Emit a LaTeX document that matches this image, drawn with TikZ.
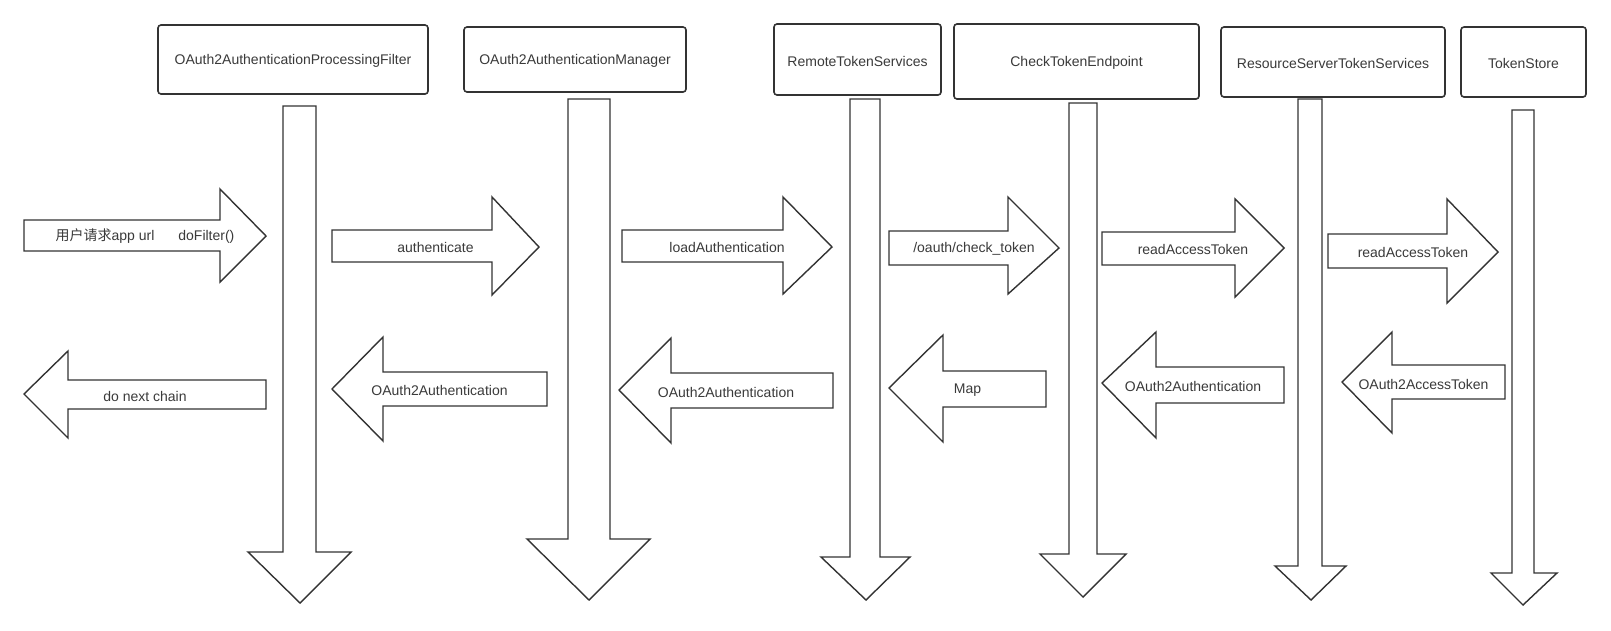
\documentclass[tikz,border=0pt]{standalone}
\usepackage{fontspec}
\setmainfont{Liberation Sans}
\newfontfamily\cjk{Noto Sans CJK SC}
\definecolor{ink}{HTML}{333333}
\definecolor{txt}{HTML}{3A3A3A}
\tikzset{
  box/.style={draw=ink, line width=1.6pt, rounded corners=3pt, fill=white, inner sep=0pt},
  blk/.style={draw=ink, line width=1.4pt, fill=white, line join=miter},
  lbl/.style={text=txt, font=\fontsize{14}{16}\selectfont, inner sep=0pt, anchor=center},
}
\begin{document}
\begin{tikzpicture}[x=1pt,y=-1pt]
\useasboundingbox (0,0) rectangle (1611,630);
\fill[white] (0,0) rectangle (1611,630);

% header boxes
\draw[box] (158,25) rectangle (428,94);
\node[lbl] (b1) at (293,61) {OAuth2AuthenticationProcessingFilter};
\draw[box] (464,27) rectangle (686,92);
\node[lbl] (b2) at (575,61) {OAuth2AuthenticationManager};
\draw[box] (774,24) rectangle (941,95);
\node[lbl] (b3) at (857.5,61) {RemoteTokenServices};
\draw[box] (954,24) rectangle (1199,99);
\node[lbl] (b4) at (1076.5,63) {CheckTokenEndpoint};
\draw[box] (1221,27) rectangle (1445,97);
\node[lbl] (b5) at (1333,63) {ResourceServerTokenServices};
\draw[box] (1461,27) rectangle (1586,97);
\node[lbl] (b6) at (1523.5,63) {TokenStore};

% lifelines (down block arrows)
\draw[blk] (283,106) -- (316,106) -- (316,552) -- (351,552) -- (300,603) -- (248,552) -- (283,552) -- cycle;
\draw[blk] (568,99) -- (610,99) -- (610,539) -- (650,539) -- (589,600) -- (527,539) -- (568,539) -- cycle;
\draw[blk] (850,99) -- (880,99) -- (880,557) -- (910,557) -- (866,600) -- (821,557) -- (850,557) -- cycle;
\draw[blk] (1069,103) -- (1097,103) -- (1097,554) -- (1126,554) -- (1083,597) -- (1040,554) -- (1069,554) -- cycle;
\draw[blk] (1298,99) -- (1322,99) -- (1322,566) -- (1346,566) -- (1311,600) -- (1275,566) -- (1298,566) -- cycle;
\draw[blk] (1512,110) -- (1534,110) -- (1534,573) -- (1557,573) -- (1523,605) -- (1491,573) -- (1512,573) -- cycle;

% right block arrows (requests)
\draw[blk] (24,220) -- (220,220) -- (220,189) -- (266,236) -- (220,282) -- (220,251) -- (24,251) -- cycle;
\node[lbl] (r1) at (145,236) {{\cjk 用户请求}app url\hspace{24pt}doFilter()};
\draw[blk] (332,230) -- (492,230) -- (492,197) -- (539,247) -- (492,295) -- (492,262) -- (332,262) -- cycle;
\node[lbl] (r2) at (435.5,247) {authenticate};
\draw[blk] (622,230) -- (783,230) -- (783,197) -- (832,247) -- (783,294) -- (783,262) -- (622,262) -- cycle;
\node[lbl] (r3) at (727,247) {loadAuthentication};
\draw[blk] (889,231) -- (1008,231) -- (1008,197) -- (1059,248) -- (1008,294) -- (1008,265) -- (889,265) -- cycle;
\node[lbl] (r4) at (974,249) {/oauth/check\_token};
\draw[blk] (1102,232) -- (1235,232) -- (1235,199) -- (1284,248) -- (1235,297) -- (1235,265) -- (1102,265) -- cycle;
\node[lbl] (r5) at (1193,249) {readAccessToken};
\draw[blk] (1328,234) -- (1447,234) -- (1447,199) -- (1498,252) -- (1447,303) -- (1447,268) -- (1328,268) -- cycle;
\node[lbl] (r6) at (1413,252) {readAccessToken};

% left block arrows (returns)
\draw[blk] (266,380) -- (68,380) -- (68,351) -- (24,394) -- (68,438) -- (68,409) -- (266,409) -- cycle;
\node[lbl] (l1) at (145,396) {do next chain};
\draw[blk] (547,372) -- (383,372) -- (383,337) -- (332,389) -- (383,441) -- (383,406) -- (547,406) -- cycle;
\node[lbl] (l2) at (439.5,390) {OAuth2Authentication};
\draw[blk] (833,373) -- (671,373) -- (671,338) -- (619,390) -- (671,443) -- (671,408) -- (833,408) -- cycle;
\node[lbl] (l3) at (726,392) {OAuth2Authentication};
\draw[blk] (1046,371) -- (943,371) -- (943,335) -- (889,388) -- (943,442) -- (943,407) -- (1046,407) -- cycle;
\node[lbl] (l4) at (967.5,390) {Map};
\draw[blk] (1284,367) -- (1156,367) -- (1156,332) -- (1102,383) -- (1156,438) -- (1156,403) -- (1284,403) -- cycle;
\node[lbl] (l5) at (1193,386) {OAuth2Authentication};
\draw[blk] (1505,365) -- (1392,365) -- (1392,332) -- (1342,382) -- (1392,433) -- (1392,399) -- (1505,399) -- cycle;
\node[lbl] (l6) at (1423.5,384) {OAuth2AccessToken};
\end{tikzpicture}
\end{document}
